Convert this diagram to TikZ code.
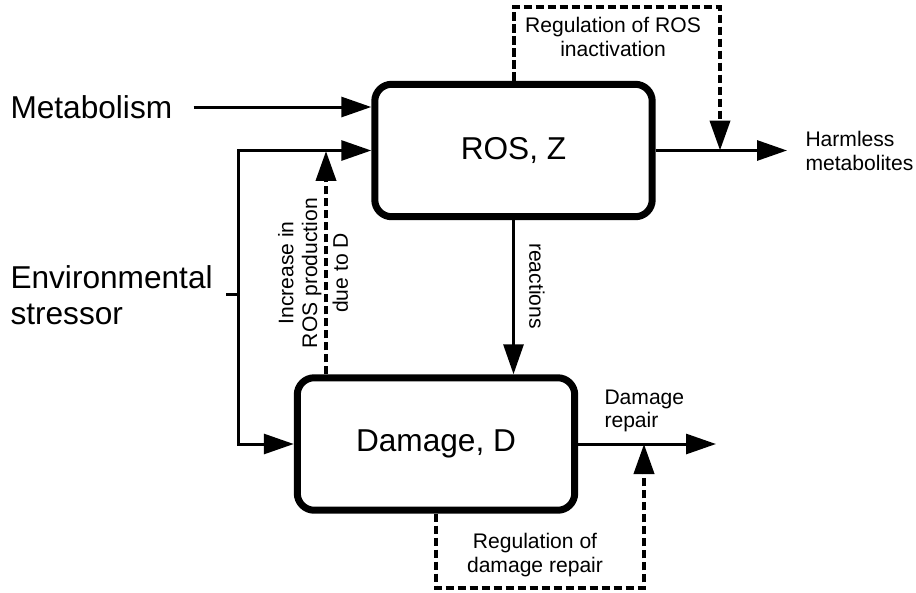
\documentclass[tikz,border=0pt]{standalone}
\usepackage{fontspec}
\setmainfont{Liberation Sans}
\usepackage{tikz}
\usetikzlibrary{arrows.meta,calc,positioning}
\newcommand{\bigtxt}{\fontsize{18}{20.5}\selectfont}
\newcommand{\smalltxt}{\fontsize{12}{13.5}\selectfont}

\begin{document}
\begin{tikzpicture}[x=0.02cm,y=-0.02cm,line width=0.06cm,>={Triangle[length=0.6cm,width=0.4cm]},
box/.style={draw,line width=0.14cm,rounded corners=0.34cm,minimum width=5.55cm,minimum height=2.65cm,font=\bigtxt},
lbl/.style={inner sep=0pt,font=\smalltxt,align=center},
regline/.style={line width=0.08cm,dash pattern=on 0.17cm off 0.07cm}]
\useasboundingbox (0,0) rectangle (916,592);
\node[box] (ros) at (513.5,150.5) {ROS, Z};
\node[box] (dam) at (436,444) {Damage, D};
\node[anchor=west,inner sep=0pt,font=\bigtxt] (met) at (9,107) {Metabolism};
\node[anchor=west,inner sep=0pt,font=\bigtxt,align=left] (env) at (9,295) {Environmental\\stressor};
\coordinate (split) at (238,294);
\coordinate (harm) at (787,150.5);
\coordinate (repair) at (716,444);
\coordinate (rosreg) at (720,150.5);
\coordinate (damreg) at (644,444);
\coordinate (incr) at (326,151);
\draw[->] ([xshift=0.4cm]met.east) -- (met.east -| ros.west);
\draw (split) ++(-12,0) -- (split);
\draw[->] (split) |- (ros.west);
\draw[->] (split) |- (dam.west);
\draw[->] (ros.east) -- (harm);
\draw[->] (ros.south) -- (ros.south |- dam.north);
\draw[->] (dam.east) -- (repair);
\draw[->,regline] (ros.north) -- (ros.north |- 0,7) -| (rosreg);
\draw[->,regline] (dam.south) -- (dam.south |- 0,588) -| (damreg);
\draw[->,regline] (incr |- dam.north) -- (incr);
\node[lbl,anchor=west,align=left] (harmtxt) at (804,151) {Harmless\\metabolites};
\node[lbl] (rosregtxt) at (613,37) {Regulation of ROS\\inactivation};
\node[lbl,rotate=-90] (reac) at (537,286) {reactions};
\node[lbl,rotate=90] (incrtxt) at (313,273) {Increase in\\ROS production\\[0.14cm]due to D};
\node[lbl,anchor=west,align=left] (reptxt) at (603,411) {Damage\\repair};
\node[lbl] (damregtxt) at (535,555) {Regulation of\\damage repair};
\end{tikzpicture}
\end{document}
